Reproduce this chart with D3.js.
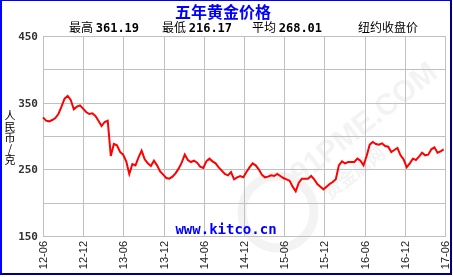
<!DOCTYPE html>
<html>
<head>
<meta charset="utf-8">
<script src="https://cdn.jsdelivr.net/npm/d3@7"></script>
<style>
   html, body { margin: 0; padding: 0; background: #fff; }
   svg { display: block; }
</style>
</head>
<body>
<div id="chart"></div>
<script>

// CHART TEXTS
var title = '五年黄金价格';
var statLabels = ['最高', '最低', '平均'];
var statValues = ['361.19', '216.17', '268.01'];
var market = '纽约收盘价';
var unit = '人民币/克';
var source = 'www.kitco.cn';

// AXIS TICKS
var xTicks = ['12-06', '12-12', '13-06', '13-12', '14-06', '14-12', '15-06', '15-12', '16-06', '16-12', '17-06'];
var yTicks = [150, 250, 350, 450];
var yGrid = [150, 200, 250, 300, 350, 400, 450];

// PRICE SERIES -- ONE CLOSE EVERY TWO WEEKS FROM 2012-06-01
var startDate = '2012-06-01';
var prices = [
   328, 323, 322, 324, 327, 333, 344, 356, 360, 354,
   340, 344, 346, 341, 336, 333, 334, 330, 323, 315,
   321, 323, 270, 288, 286, 276, 272, 262, 243, 258,
   256, 268, 278, 265, 259, 255, 263, 256, 247, 242,
   237, 236, 239, 244, 251, 260, 272, 264, 261, 263,
   260, 254, 252, 262, 266, 262, 259, 253, 248, 243,
   241, 246, 235, 238, 240, 238, 246, 253, 259, 256,
   250, 242, 238, 239, 241, 240, 243, 240, 237, 235,
   233, 224, 217, 230, 236, 236, 236, 240, 235, 228,
   224, 220, 224, 228, 231, 235, 256, 262, 259, 261,
   261, 261, 266, 263, 256, 270, 287, 291, 288, 287,
   289, 285, 284, 276, 279, 282, 271, 265, 253, 259,
   266, 264, 269, 275, 271, 272, 280, 283, 275, 277,
   280
];

// SETTINGS
var settings = {
   width: 453,
   height: 277,
   left: 43,
   right: 445,
   top: 36,
   bottom: 236,
   grid: '#c0c0c0',
   line: '#ff0000',
   blue: '#0000ff',
   navy: '#000080',
   mono: '"DejaVu Sans Mono", "Liberation Mono", monospace',
   cjk: '"Noto Sans CJK SC", sans-serif'
};

// BUILD DATES
var parseTick = d3.timeParse('%y-%m');
var first = d3.timeParse('%Y-%m-%d')(startDate);
var data = prices.map((p, i) => { return { date: d3.timeDay.offset(first, i * 14), value: p } });

// SCALES
var xScale = d3.scaleTime()
   .domain([parseTick(xTicks[0]), parseTick(xTicks[xTicks.length - 1])])
   .range([settings.left, settings.right])

var yScale = d3.scaleLinear()
   .domain([150, 450])
   .range([settings.bottom, settings.top])

// CANVAS
var canvas = d3.select('#chart').append('svg')
   .attr('width', settings.width)
   .attr('height', settings.height)

canvas.append('rect')
   .attr('width', settings.width)
   .attr('height', settings.height)
   .attr('fill', '#fff')

// WATERMARK
var mark = canvas.append('g')
   .attr('opacity', 0.1)

mark.append('circle')
   .attr('cx', 278)
   .attr('cy', 212)
   .attr('r', 36)
   .attr('fill', 'none')
   .attr('stroke', '#888')
   .attr('stroke-width', 9)

mark.append('text')
   .attr('transform', 'translate(300,185) rotate(-38)')
   .attr('font-family', 'Arial, "Liberation Sans", sans-serif')
   .attr('font-weight', 'bold')
   .attr('font-size', 30)
   .attr('fill', '#888')
   .text('91PME.COM')

mark.append('text')
   .attr('transform', 'translate(330,200) rotate(-38)')
   .attr('font-family', settings.cjk)
   .attr('font-weight', 'bold')
   .attr('font-size', 18)
   .attr('fill', '#888')
   .text('贵金属网')

// GRID -- HORIZONTAL
canvas.selectAll('line.hgrid')
   .data(yGrid)
      .enter().append('line')
         .attr('class', 'hgrid')
         .attr('x1', settings.left)
         .attr('x2', settings.right + 1)
         .attr('y1', (d) => { return Math.round(yScale(d)) + 0.5 })
         .attr('y2', (d) => { return Math.round(yScale(d)) + 0.5 })
         .attr('stroke', settings.grid)

// GRID -- VERTICAL
canvas.selectAll('line.vgrid')
   .data(xTicks)
      .enter().append('line')
         .attr('class', 'vgrid')
         .attr('x1', (d) => { return Math.round(xScale(parseTick(d))) + 0.5 })
         .attr('x2', (d) => { return Math.round(xScale(parseTick(d))) + 0.5 })
         .attr('y1', settings.top)
         .attr('y2', settings.bottom + 1)
         .attr('stroke', settings.grid)

// PRICE LINE
var pathify = d3.line()
   .x((d) => { return xScale(d.date) })
   .y((d) => { return yScale(d.value) })

canvas.append('path')
   .attr('fill', 'none')
   .attr('stroke', settings.line)
   .attr('stroke-width', 2)
   .attr('stroke-linejoin', 'miter')
   .attr('d', pathify(data))

// Y TICK LABELS
canvas.selectAll('text.ytick')
   .data(yTicks)
      .enter().append('text')
         .attr('class', 'ytick')
         .attr('x', 38)
         .attr('y', (d) => { return yScale(d) })
         .attr('dy', '0.36em')
         .attr('text-anchor', 'end')
         .attr('font-family', settings.mono)
         .attr('font-weight', 'bold')
         .attr('font-size', 11)
         .attr('fill', '#333')
         .text((d) => { return d })

// X TICK LABELS
canvas.selectAll('text.xtick')
   .data(xTicks)
      .enter().append('text')
         .attr('class', 'xtick')
         .attr('transform', (d) => { return 'translate(' + xScale(parseTick(d)) + ',241) rotate(-90)' })
         .attr('dy', '0.36em')
         .attr('text-anchor', 'end')
         .attr('font-family', '"Liberation Sans", Arial, sans-serif')
         .attr('font-size', 11)
         .attr('fill', '#222')
         .text((d) => { return d })

// UNIT LABEL -- VERTICAL UPRIGHT TEXT
canvas.append('text')
   .attr('x', 10)
   .attr('y', 110)
   .attr('font-family', settings.cjk)
   .attr('font-size', 11)
   .attr('fill', '#000')
   .style('writing-mode', 'vertical-rl')
   .style('text-orientation', 'upright')
   .text(unit)

// TITLE
canvas.append('text')
   .attr('x', 223)
   .attr('y', 18)
   .attr('text-anchor', 'middle')
   .attr('font-family', settings.cjk)
   .attr('font-weight', 'bold')
   .attr('font-size', 16)
   .attr('fill', settings.blue)
   .text(title)

// STATS ROW
var statX = [69, 162, 252];
statLabels.forEach((label, i) => {
   var t = canvas.append('text')
      .attr('x', statX[i])
      .attr('y', 32)
      .attr('font-size', 12)
      .attr('fill', '#000')
   t.append('tspan')
      .attr('font-family', settings.cjk)
      .text(label + ' ')
   t.append('tspan')
      .attr('font-family', settings.mono)
      .attr('font-weight', 'bold')
      .text(statValues[i])
})

canvas.append('text')
   .attr('x', 358)
   .attr('y', 32)
   .attr('font-family', settings.cjk)
   .attr('font-size', 12)
   .attr('fill', '#000')
   .text(market)

// SOURCE
canvas.append('text')
   .attr('x', 226)
   .attr('y', 234)
   .attr('text-anchor', 'middle')
   .attr('font-family', settings.mono)
   .attr('font-weight', 'bold')
   .attr('font-size', 14)
   .attr('fill', settings.blue)
   .text(source)

// FRAME
canvas.append('rect').attr('x', 0).attr('y', 0).attr('width', 2).attr('height', 275).attr('fill', settings.blue)
canvas.append('rect').attr('x', 0).attr('y', 0).attr('width', 451).attr('height', 1).attr('fill', settings.blue)
canvas.append('rect').attr('x', 450).attr('y', 0).attr('width', 2).attr('height', 275).attr('fill', settings.navy)
canvas.append('rect').attr('x', 0).attr('y', 273).attr('width', 452).attr('height', 2).attr('fill', settings.navy)

</script>
</body>
</html>
